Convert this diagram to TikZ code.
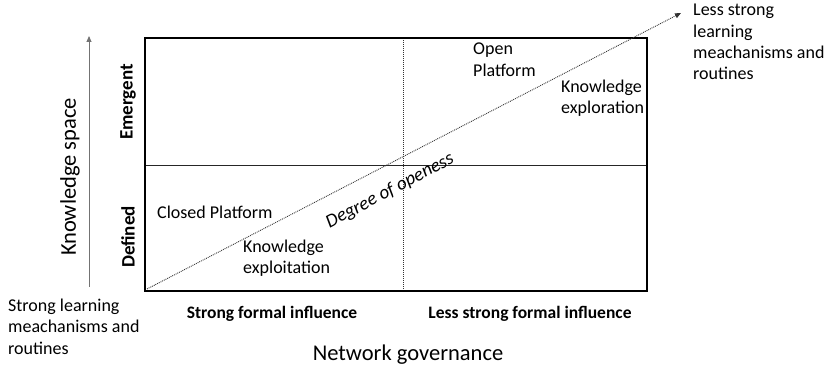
\documentclass[tikz,border=0pt]{standalone}
\usepackage{fontspec}
\setmainfont{Carlito}
\usetikzlibrary{arrows.meta}
\begin{document}
\begin{tikzpicture}[x=1pt,y=-1pt,
  txt/.style={font=\fontsize{18}{21.3}\selectfont, align=left, inner sep=0pt},
  bold/.style={font=\fontsize{17.5}{20}\selectfont\bfseries, inner sep=0pt},
  side/.style={font=\fontsize{19}{21}\selectfont\bfseries, inner sep=0pt, rotate=90},
  big/.style={font=\fontsize{22.5}{25}\selectfont, inner sep=0pt},
  dotline/.style={densely dotted, line width=0.9pt, black!80},
  tip/.style={-{Triangle[length=6pt,width=5pt]}}]
\useasboundingbox (0,0) rectangle (825,366);
% quadrant frame
\coordinate (tl) at (145,38);
\coordinate (br) at (647,291);
\draw[line width=0.9pt, black!85] (145,165) -- (647,165);
\draw[dotline, line width=1pt] (403,38) -- (403,291);
\draw[line width=2.6pt] (tl) rectangle (br);
% degree of openness axis
\coordinate (o) at (147,289);
\coordinate (far) at (681,13);
\draw[dotline, tip] (o) -- (far);
\node[rotate=27.8, font=\fontsize{19}{21}\selectfont\itshape, inner sep=0pt] (deg) at (390,191) {Degree of openess};
% knowledge space axis
\coordinate (ks0) at (89,287);
\coordinate (ks1) at (89,36);
\draw[line width=0.9pt, black!55, tip] (ks0) -- (ks1);
\node[big, rotate=90] (ks) at (70,177) {Knowledge space};
\node[side] (em) at (128,102) {Emergent};
\node[side] (de) at (128,237) {Defined};
% quadrant labels
\node[txt, anchor=west] (cp) at (157,212) {Closed Platform};
\node[txt, anchor=north west] (kexp) at (243,240) {Knowledge\\exploitation};
\node[txt, anchor=north west] (op) at (473,43) {Open\\Platform};
\node[txt, anchor=north west] (kexr) at (561,80) {Knowledge\\exploration};
% end labels
\node[txt, anchor=north west] (slr) at (8,299) {Strong learning\\meachanisms and\\routines};
\node[txt, anchor=north west] (lslr) at (693,4) {Less strong\\learning\\meachanisms and\\routines};
% governance axis
\node[bold] (sfi) at (272,314) {Strong formal influence};
\node[bold] (lsfi) at (530,314) {Less strong formal influence};
\node[big] (ng) at (408,355) {Network governance};
\end{tikzpicture}
\end{document}
